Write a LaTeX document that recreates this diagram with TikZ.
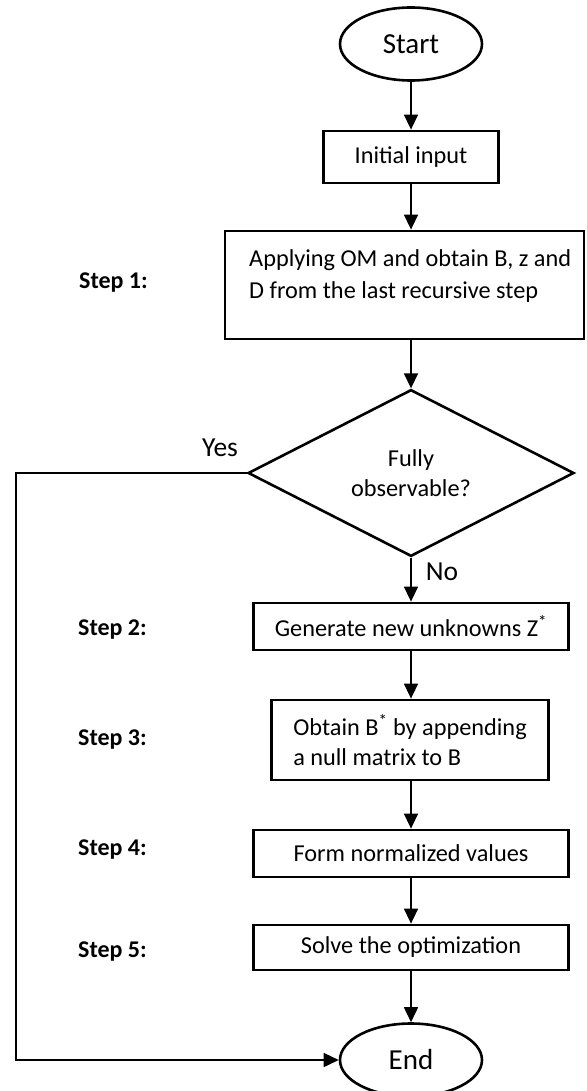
\documentclass[tikz,border=0pt]{standalone}
\usepackage{fontspec}
\setmainfont{Carlito}
\usetikzlibrary{arrows.meta,shapes.geometric}
\begin{document}
\begin{tikzpicture}[x=1pt,y=-1pt,
  every node/.style={inner sep=0pt},
  txt/.style={font=\fontsize{24.3}{30}\selectfont},
  box/.style={draw,line width=2.8pt,txt},
  term/.style={draw,ellipse,line width=2.6pt,minimum width=142pt,minimum height=73pt,font=\fontsize{29}{30}\selectfont},
  decision/.style={draw,diamond,line width=2.6pt,minimum width=326pt,minimum height=162pt,align=center,txt},
  steplabel/.style={anchor=west,font=\bfseries\fontsize{24}{30}\selectfont},
  answer/.style={font=\fontsize{27.5}{30}\selectfont},
  flow/.style={line width=1.6pt,-{Triangle[length=15pt,width=14pt]}}]
  \useasboundingbox (0,0) rectangle (586,1091);
  \fill[white] (0,0) rectangle (586,1091);

  % terminals, process boxes and the decision
  \node[term] (start) at (411,44) {Start};
  \node[box,minimum width=175pt,minimum height=52pt] (init) at (411,157) {Initial input};
  \node[box,minimum width=359pt,minimum height=108pt] (s1) at (404.5,285) {};
  \node[anchor=west,align=left,font=\fontsize{24.3}{32}\selectfont] (s1text) at (249,276)
    {Applying OM and obtain B, z and\\D from the last recursive step};
  \node[decision] (dec) at (411,473) {Fully\\observable?};
  \node[box,minimum width=315pt,minimum height=47pt] (s2) at (411,626.5) {Generate new unknowns Z\textsuperscript{*}};
  \node[box,minimum width=277pt,minimum height=80pt,align=left] (s3) at (410,740)
    {Obtain B\textsuperscript{*} by appending\\a null matrix to B};
  \node[box,minimum width=315pt,minimum height=47pt] (s4) at (411,853.5) {Form normalized values};
  \node[box,minimum width=315pt,minimum height=45pt] (s5) at (411,947.5) {Solve the optimization};
  \node[term] (end) at (411,1060) {End};

  % step captions on the left
  \node[steplabel] (l1) at (79,283) {Step 1:};
  \node[steplabel] (l2) at (78,630) {Step 2:};
  \node[steplabel] (l3) at (78,740) {Step 3:};
  \node[steplabel] (l4) at (78,850) {Step 4:};
  \node[steplabel] (l5) at (78,952) {Step 5:};

  % branch answers
  \node[answer] (yes) at (220,448) {Yes};
  \node[answer] (no) at (442,572) {No};

  % connectors
  \draw[flow] (start) -- (init);
  \draw[flow] (init.south) -- (init.south |- s1.north);
  \draw[flow] (dec.north |- s1.south) -- (dec.north);
  \draw[flow] (dec) -- (s2);
  \draw[flow] (s2.south) -- (s2.south |- s3.north);
  \draw[flow] (s3.south -| s4.north) -- (s4.north);
  \draw[flow] (s4) -- (s5);
  \draw[flow] (s5) -- (end);
  \coordinate (yesturn) at (16,473);
  \draw[flow] (dec.west) -- (yesturn) |- (end.west);
\end{tikzpicture}
\end{document}
